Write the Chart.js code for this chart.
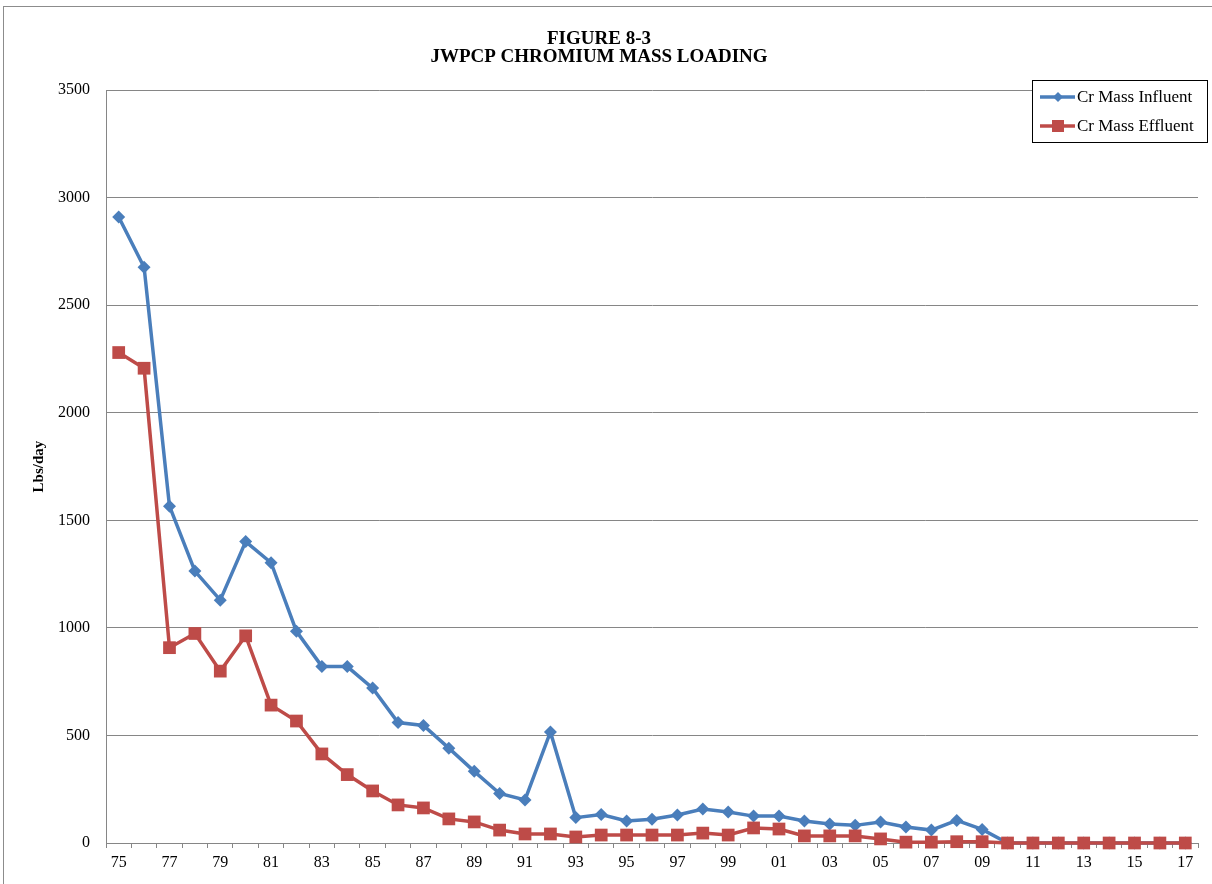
<!DOCTYPE html>
<html>
<head>
<title>JWPCP Chromium Mass Loading</title>
<script src="https://cdn.jsdelivr.net/npm/chart.js@4.4.1/dist/chart.umd.min.js"></script>
<style>
body { margin:0; background:#fff; }
#wrap { position:relative; width:1212px; height:884px; }
</style>
</head>
<body>
<div id="wrap"><canvas id="chart1"></canvas></div>

<script>
// years 1975 - 2017, two digit labels
var years = ['75','76','77','78','79','80','81','82','83','84','85','86','87','88','89','90',
             '91','92','93','94','95','96','97','98','99','00','01','02','03','04','05','06',
             '07','08','09','10','11','12','13','14','15','16','17'];
var influent = [2910, 2677, 1566, 1264, 1129, 1401, 1303, 984, 821, 820, 720, 560, 546, 441, 333,
                230, 200, 516, 118, 132, 102, 110, 130, 158, 144, 125, 125, 102, 88, 82, 98, 74,
                60, 105, 63, 0, 0, 0, 0, 0, 0, 0, 0];
var effluent = [2280, 2207, 908, 974, 799, 963, 641, 567, 414, 318, 242, 177, 163, 112, 98,
                60, 42, 42, 28, 37, 37, 37, 37, 46, 37, 70, 65, 33, 33, 33, 19, 4,
                4, 6, 6, 0, 0, 0, 0, 0, 0, 0, 0];
var yTicks = [0, 500, 1000, 1500, 2000, 2500, 3000, 3500];

var serif = "'Liberation Serif', 'Times New Roman', serif";

// excel style frame + boxed legend in the top right corner
var extras = {
  id: 'extras',
  beforeDraw: function(c) {
    var g = c.ctx;
    g.save();
    g.strokeStyle = '#8c8c8c';
    g.lineWidth = 1;
    g.strokeRect(3.5, 6.5, 1400, 1000);
    g.restore();
  },
  afterDraw: function(c) {
    var g = c.ctx;
    var x0 = 1032, y0 = 80, w = 175, h = 62;
    g.save();
    g.fillStyle = '#fff';
    g.fillRect(x0, y0, w, h);
    g.strokeStyle = '#000';
    g.lineWidth = 1;
    g.strokeRect(x0 + 0.5, y0 + 0.5, w, h);
    g.font = '17px ' + serif;
    g.textBaseline = 'middle';
    c.data.datasets.forEach(function(ds, i) {
      var yy = y0 + 17 + i * 29;
      g.strokeStyle = ds.borderColor;
      g.lineWidth = 3.5;
      g.beginPath(); g.moveTo(x0 + 8, yy); g.lineTo(x0 + 43, yy); g.stroke();
      g.fillStyle = ds.borderColor;
      g.beginPath();
      if (ds.pointStyle === 'rectRot') {
        g.moveTo(x0 + 26, yy - 5); g.lineTo(x0 + 31, yy); g.lineTo(x0 + 26, yy + 5); g.lineTo(x0 + 21, yy);
      } else {
        g.rect(x0 + 20, yy - 6, 12, 12);
      }
      g.fill();
      g.fillStyle = '#000';
      g.fillText(ds.label, x0 + 45, yy + 1);
    });
    g.restore();
  }
};

var ctx = document.getElementById('chart1').getContext('2d');
var chart = new Chart(ctx, {
  type: 'line',
  data: {
    labels: years,
    datasets: [
      {
        label: 'Cr Mass Influent',
        data: influent,
        borderColor: '#4a7ebb',
        backgroundColor: '#4a7ebb',
        borderWidth: 3.5,
        pointStyle: 'rectRot',
        pointRadius: 6.5,
        pointBorderWidth: 0,
        tension: 0,
        clip: false,
        order: 2
      },
      {
        label: 'Cr Mass Effluent',
        data: effluent,
        borderColor: '#be4b48',
        backgroundColor: '#be4b48',
        borderWidth: 3.5,
        pointStyle: 'rect',
        pointRadius: 9,
        pointBorderWidth: 0,
        tension: 0,
        clip: false,
        order: 1
      }
    ]
  },
  plugins: [extras],
  options: {
    responsive: true,
    maintainAspectRatio: false,
    animation: false,
    layout: { padding: { left: 0, right: 14, top: 0, bottom: 0 } },
    plugins: {
      legend: { display: false },
      tooltip: { enabled: false },
      title: {
        display: true,
        text: ['FIGURE 8-3', 'JWPCP CHROMIUM MASS LOADING'],
        color: '#000',
        font: { family: serif, size: 19, weight: 'bold', lineHeight: 0.95 },
        padding: { top: 30, bottom: 24 }
      }
    },
    scales: {
      x: {
        offset: true,
        grid: { offset: true, drawOnChartArea: false, drawTicks: true, tickLength: 5, color: '#868686' },
        border: { color: '#868686' },
        ticks: {
          autoSkip: false, maxRotation: 0, color: '#000', padding: 5,
          font: { family: serif, size: 16 },
          callback: function(v, i) { return i % 2 === 0 ? years[i] : ''; }
        },
        afterFit: function(s) { s.height = 41; }
      },
      y: {
        min: 0, max: 3500,
        afterBuildTicks: function(s) { s.ticks = yTicks.map(function(v) { return { value: v }; }); },
        grid: { color: '#868686', drawTicks: false, tickLength: 0 },
        border: { color: '#868686' },
        ticks: {
          color: '#000', padding: 16, font: { family: serif, size: 16 },
          callback: function(v) { return String(v); }
        },
        title: {
          display: true, text: 'Lbs/day', color: '#000',
          font: { family: serif, size: 15, weight: 'bold' },
          padding: { top: 30, bottom: 0 }
        },
        afterFit: function(s) { s.width = 106; }
      }
    }
  }
});
</script>
</body>
</html>
